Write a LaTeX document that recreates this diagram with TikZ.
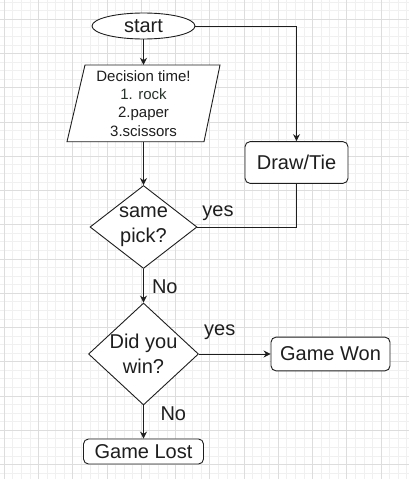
\documentclass[tikz,border=0pt]{standalone}
\usepackage{fontspec}
\setmainfont{Liberation Sans}
\usetikzlibrary{shapes.geometric,arrows.meta}
\definecolor{ink}{HTML}{1E1E1E}
\definecolor{gminor}{HTML}{F0F0F0}
\definecolor{gmajor}{HTML}{DDDDDD}
\definecolor{rockc}{HTML}{25352A}
\begin{document}
\begin{tikzpicture}[x=1pt,y=-1pt,
  box/.style={draw=ink, line width=0.9pt, rounded corners=5pt, fill=white, inner sep=0pt, font=\fontsize{20}{24}\selectfont, text=ink},
  dia/.style={diamond, draw=ink, line width=0.9pt, fill=white, inner sep=0pt},
  dtext/.style={font=\fontsize{20}{25}\selectfont, align=center, text=ink},
  conn/.style={draw=ink, line width=0.9pt},
  arr/.style={conn, -{Stealth[length=7pt,width=7pt]}},
  lbl/.style={font=\fontsize{20}{24}\selectfont, text=ink, anchor=base, inner sep=0pt},
  gridminor/.style={draw=gminor, line width=0.8pt},
  gridmajor/.style={draw=gmajor, line width=0.8pt},
]
\useasboundingbox (0,0) rectangle (409,479);
\fill[white] (0,0) rectangle (409,479);
\begin{scope}
\clip (0,0) rectangle (409,479);
\foreach \k in {0,...,48} \draw[gridminor] ({4.3+8.5625*\k},0) -- ++(0,479);
\foreach \k in {0,...,56} \draw[gridminor] (0,{2.125+8.5625*\k}) -- ++(409,0);
\foreach \k in {0,...,12} \draw[gridmajor] ({4.3+34.25*\k},0) -- ++(0,479);
\foreach \k in {0,...,14} \draw[gridmajor] (0,{19.25+34.25*(\k-1)}) -- ++(409,0);
\end{scope}

% parallelogram outline
\draw[conn, fill=white] (85,65) -- (220,65) -- (204,141.7) -- (67,141.7) -- cycle;

\node[ellipse, draw=ink, line width=0.9pt, fill=white, minimum width=103pt, minimum height=26pt, inner sep=0pt, font=\fontsize{20}{24}\selectfont, text=ink] (start) at (143.5,26) {start};
\node[minimum width=137pt, minimum height=76.7pt, inner sep=0pt, align=center, font=\fontsize{15}{18.3}\selectfont, text=ink] (dec) at (143.5,103.35) {Decision time!\\{\color{rockc}1. rock}\\2.paper\\3.scissors};
\node[box, minimum width=103pt, minimum height=41.7pt] (tie) at (296.5,162.5) {Draw/Tie};
\node[dia, minimum width=107pt, minimum height=83pt, label={[dtext]center:same\\pick?}] (same) at (143.5,227) {};
\node[dia, minimum width=110pt, minimum height=102pt, label={[dtext]center:Did you\\win?}] (did) at (143.5,354) {};
\node[box, minimum width=119pt, minimum height=33.7pt] (won) at (330.5,354) {Game Won};
\node[box, minimum width=120pt, minimum height=25pt] (lost) at (143.5,451.5) {Game Lost};

\draw[arr] (start.south) -- (dec.north);
\draw[arr] (start.east) -| (tie.north);
\draw[arr] (dec.south) -- (same.north);
\draw[conn] (same.east) -| (tie.south);
\draw[arr] (same.south) -- (did.north);
\draw[arr] (did.east) -- (won.west);
\draw[arr] (did.south) -- (lost.north);

\node[lbl] (yes1) at (218,216) {yes};
\node[lbl] (no1) at (164.8,293.3) {No};
\node[lbl] (yes2) at (219.7,335) {yes};
\node[lbl] (no2) at (173.3,420) {No};
\end{tikzpicture}
\end{document}
